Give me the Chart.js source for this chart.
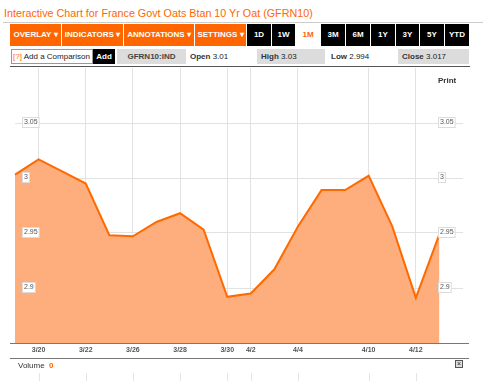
<!DOCTYPE html>
<html>
<head>
<meta charset="utf-8">
<script src="https://cdn.jsdelivr.net/npm/chart.js@4/dist/chart.umd.min.js"></script>
<style>
  html, body { margin:0; padding:0; background:#fff; width:490px; height:381px; overflow:hidden; }
  body { position:relative; font-family:"Liberation Sans", Arial, sans-serif; }
  .abs { position:absolute; }
  .title { left:4px; top:6px; font-size:11.5px; line-height:14px; color:#ff6600; white-space:nowrap; transform:scaleX(0.935); transform-origin:0 0; }
  .btn { position:absolute; top:24px; height:22px; line-height:22px; font-size:8px; font-weight:bold; color:#fff; text-align:center; white-space:nowrap; }
  .or { background:#ff6600; }
  .bk { background:#000; }
  .wh { background:#fff; color:#ff6600; }
  .r2 { position:absolute; top:49px; height:15px; line-height:15px; font-size:8px; color:#222; white-space:nowrap; }
  .gray { background:#dcdcdc; }
  b { color:#333; }
</style>
</head>
<body>
<div class="abs title">Interactive Chart for France Govt Oats Btan 10 Yr Oat (GFRN10)</div>
<div class="abs" style="left:3px;top:22px;width:480px;height:1px;background:#ccc"></div>

<div class="btn or" style="left:10px;width:51px">OVERLAY ▾</div>
<div class="btn or" style="left:62px;width:61px">INDICATORS ▾</div>
<div class="btn or" style="left:124px;width:70px">ANNOTATIONS ▾</div>
<div class="btn or" style="left:195px;width:51px">SETTINGS ▾</div>
<div class="btn bk" style="left:247px;width:24px">1D</div>
<div class="btn bk" style="left:272px;width:23px">1W</div>
<div class="btn wh" style="left:296px;width:24px">1M</div>
<div class="btn bk" style="left:321px;width:24px">3M</div>
<div class="btn bk" style="left:346px;width:24px">6M</div>
<div class="btn bk" style="left:371px;width:24px">1Y</div>
<div class="btn bk" style="left:396px;width:23px">3Y</div>
<div class="btn bk" style="left:420px;width:24px">5Y</div>
<div class="btn bk" style="left:445px;width:24px">YTD</div>

<div class="r2" style="left:11px;width:79px;height:13px;line-height:13px;border:1px solid #999;background:#fff;padding-left:1px"><span style="color:#ff6600">[?]</span> Add a Comparison</div>
<div class="r2 bk" style="left:93px;width:22px;color:#fff;font-weight:bold;text-align:center">Add</div>
<div class="r2 gray" style="left:117px;width:69px;text-align:center;font-weight:bold;color:#444">GFRN10:IND</div>
<div class="r2" style="left:190px"><b>Open</b> 3.01</div>
<div class="r2 gray" style="left:257px;width:64px;padding-left:4px"><b>High</b> 3.03</div>
<div class="r2" style="left:331px"><b>Low</b> 2.994</div>
<div class="r2 gray" style="left:398px;width:67px;padding-left:4px"><b>Close</b> 3.017</div>

<div class="abs" style="left:0;top:68px;width:490px;height:313px"><canvas id="c" width="490" height="313"></canvas></div>

<div class="abs" style="left:10px;top:66px;width:460px;height:1px;background:#555"></div>
<div class="abs" style="left:438px;top:76px;font-size:8px;font-weight:bold;color:#333">Print</div>
<div class="abs" style="left:10px;top:343px;width:459px;height:1px;background:#777"></div>
<div class="abs" style="left:10px;top:358px;width:459px;height:1px;background:#777"></div>
<div class="abs" style="left:18px;top:361px;font-size:8px;color:#333;line-height:10px">Volume <span style="color:#ff6600;font-weight:bold;margin-left:2px">0</span></div>
<div class="abs" style="left:455px;top:360px;width:6px;height:6px;border:1px solid #555;background:#ddd;font-size:7px;line-height:6px;text-align:center;color:#222">×</div>

<script>
// ---- data ----
const dates = ['3/19','3/20','3/21','3/22','3/23','3/26','3/27','3/28','3/29','3/30','4/2','4/3','4/4','4/5','4/6','4/10','4/11','4/12','4/13','4/16'];
const yields = [3.003, 3.017, 3.006, 2.995, 2.948, 2.947, 2.960, 2.968, 2.953, 2.892, 2.895, 2.917, 2.956, 2.989, 2.989, 3.002, 2.956, 2.891, 2.949, null];
const shownDates = ['3/20','3/22','3/26','3/28','3/30','4/2','4/4','4/10','4/12'];
const yTickValues = [2.9, 2.95, 3, 3.05];

const fmt = v => String(+(+v).toFixed(2));
const isShownY = v => yTickValues.some(t => Math.abs(t - v) < 1e-6);

const labelsPlugin = {
  id: 'yLabels',
  afterDatasetsDraw(chart) {
    const ctx = chart.ctx, y = chart.scales.y, x = chart.scales.x;
    ctx.save();
    ctx.font = '7px "Liberation Sans", Arial, sans-serif';
    ctx.textBaseline = 'middle';
    y.ticks.forEach(t => {
      if (!isShownY(t.value)) return;
      const py = Math.round(y.getPixelForValue(t.value));
      const txt = fmt(t.value);
      const w = ctx.measureText(txt).width;
      [22.5, 438.5].forEach(x0 => {
        ctx.fillStyle = '#fff';
        ctx.strokeStyle = '#dcdcdc';
        ctx.lineWidth = 1;
        ctx.fillRect(x0, py - 5.5, w + 3, 10);
        ctx.strokeRect(x0, py - 5.5, w + 3, 10);
        ctx.fillStyle = '#555';
        ctx.fillText(txt, x0 + 1.5, py - 0.5);
      });
    });
    // volume-area grid lines
    ctx.strokeStyle = '#e4e4e4';
    ctx.lineWidth = 1;
    dates.forEach((d, i) => {
      if (!shownDates.includes(d)) return;
      const px = Math.round(x.getPixelForValue(i)) + 0.5;
      ctx.beginPath(); ctx.moveTo(px, 305); ctx.lineTo(px, 313); ctx.stroke();
    });
    ctx.restore();
  }
};

new Chart(document.getElementById('c'), {
  type: 'line',
  data: {
    labels: dates,
    datasets: [{
      data: yields,
      borderColor: '#ff6a00',
      borderWidth: 2,
      backgroundColor: '#fdae7c',
      fill: 'start',
      tension: 0,
      pointRadius: 0,
      spanGaps: false
    }]
  },
  options: {
    responsive: false,
    devicePixelRatio: 1,
    animation: false,
    layout: { padding: { left: 15, right: 27, top: 0, bottom: 23 } },
    plugins: { legend: { display: false }, tooltip: { enabled: false } },
    scales: {
      x: {
        type: 'category',
        offset: false,
        border: { display: false },
        grid: {
          drawTicks: false,
          lineWidth: 1,
          color: c => (c.index !== undefined && shownDates.includes(dates[c.index])) ? '#e2e2e2' : 'rgba(0,0,0,0)'
        },
        ticks: {
          autoSkip: false,
          maxRotation: 0,
          minRotation: 0,
          padding: 3,
          color: '#555',
          font: { family: '"Liberation Sans", Arial, sans-serif', size: 7, weight: 'bold' },
          callback: function(v, i) { return shownDates.includes(dates[i]) ? dates[i] : ''; }
        },
        afterFit: s => { s.height = 15; }
      },
      y: {
        min: 2.85,
        max: 3.1,
        border: { display: false },
        grid: {
          drawTicks: false,
          lineWidth: 1,
          color: c => (c.tick && isShownY(c.tick.value)) ? '#e2e2e2' : 'rgba(0,0,0,0)'
        },
        ticks: { display: false, stepSize: 0.05 },
        afterFit: s => { s.width = 0; }
      }
    }
  },
  plugins: [labelsPlugin]
});
</script>
</body>
</html>
